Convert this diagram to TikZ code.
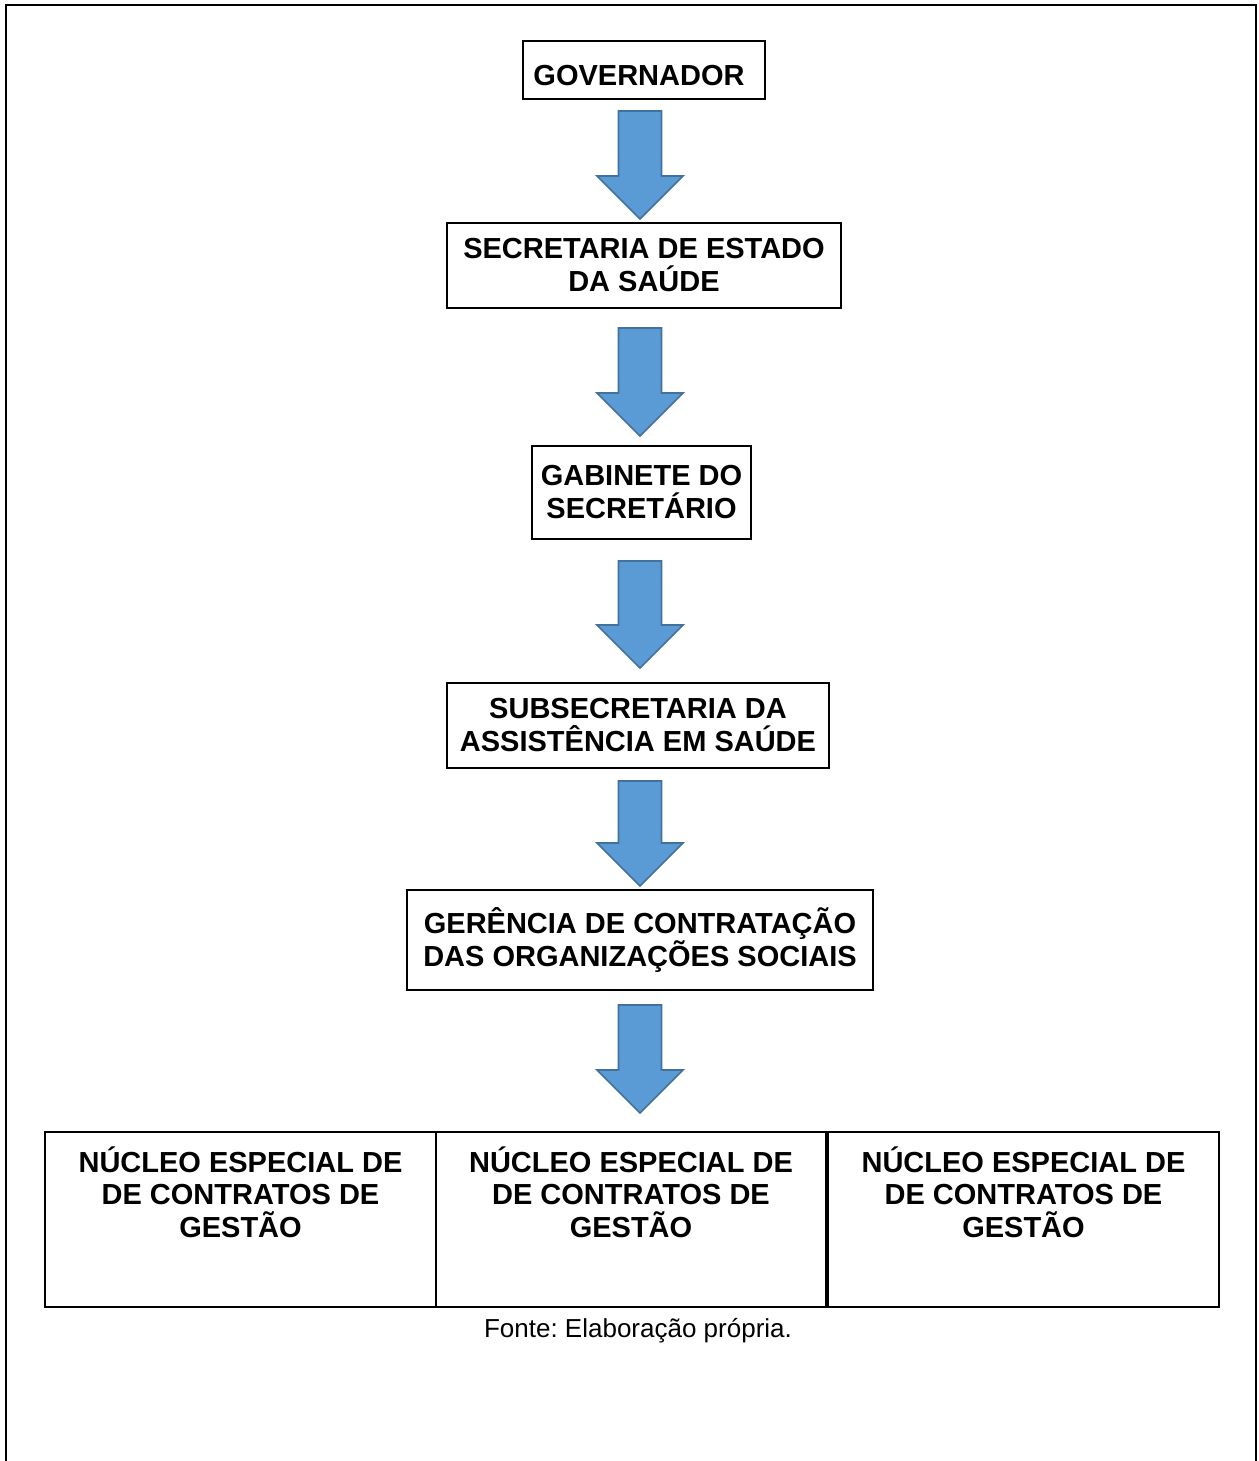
\documentclass[tikz,border=0pt]{standalone}
\usepackage{fontspec}
\setmainfont{Liberation Sans}
\usetikzlibrary{calc}
\definecolor{arrowfill}{HTML}{5B9BD5}
\definecolor{arrowline}{HTML}{41719C}
\frenchspacing
\tikzset{
  orgbox/.style={draw=black, line width=1pt, inner sep=0pt, align=center,
    font=\fontsize{14.5pt}{16.5pt}\selectfont\bfseries},
  nucleobox/.style={draw=black, line width=1pt, inner sep=0pt,
    minimum width=195.5pt, minimum height=87.5pt},
  nucleotext/.style={inner sep=0pt, align=center,
    font=\fontsize{14.5pt}{16.3pt}\selectfont\bfseries},
  caption/.style={inner sep=0pt, font=\fontsize{13pt}{15pt}\selectfont\frenchspacing},
  frameline/.style={line width=1pt, draw=black},
  blockarrow/.style={draw=arrowline, fill=arrowfill, line width=0.8pt, line join=miter,
    to path={let \p1=(\tikztostart), \p2=(\tikztotarget) in
      (\x2-10.75pt,\y1) -- (\x2+10.75pt,\y1) -- (\x2+10.75pt,\y2+21.5pt)
      -- (\x2+21.5pt,\y2+21.5pt) -- (\x2,\y2) -- (\x2-21.5pt,\y2+21.5pt)
      -- (\x2-10.75pt,\y2+21.5pt) -- cycle}}
}
\begin{document}
\begin{tikzpicture}[x=0.5pt, y=-0.5pt]
\useasboundingbox (0,0) rectangle (1258,1461);
% frame (open at the bottom)
\draw[frameline] (6,1461) -- (6,5) -- (1256,5) -- (1256,1461);

\coordinate (axis) at (640,0);

\node[orgbox, minimum width=121pt, minimum height=29pt] (gov) at (644,70)
  {\raisebox{-3pt}[\height][\depth]{GOVERNADOR\hspace{5pt}}};
\node[orgbox, minimum width=197pt, minimum height=42.5pt] (sec) at (644,265.5)
  {SECRETARIA DE ESTADO\\DA SAÚDE};
\node[orgbox, minimum width=109.5pt, minimum height=46.5pt] (gab) at (641.5,492.5)
  {GABINETE DO\\SECRETÁRIO};
\node[orgbox, minimum width=191pt, minimum height=42.5pt] (sub) at (638,725.5)
  {SUBSECRETARIA DA\\ASSISTÊNCIA EM SAÚDE};
\node[orgbox, minimum width=233pt, minimum height=50pt] (ger) at (640,940)
  {GERÊNCIA DE CONTRATAÇÃO\\DAS ORGANIZAÇÕES SOCIAIS};

\node[nucleobox] (n1) at (240.5,1219.5) {};
\node[nucleobox, minimum width=195pt] (n2) at (631,1219.5) {};
\node[nucleobox] (n3) at (1023.5,1219.5) {};

\node[nucleotext, anchor=north] (t1) at ($(n1.north)+(0,15)$)
  {NÚCLEO ESPECIAL DE\\DE CONTRATOS DE\\GESTÃO};
\node[nucleotext, anchor=north] (t2) at ($(n2.north)+(0,15)$)
  {NÚCLEO ESPECIAL DE\\DE CONTRATOS DE\\GESTÃO};
\node[nucleotext, anchor=north] (t3) at ($(n3.north)+(0,15)$)
  {NÚCLEO ESPECIAL DE\\DE CONTRATOS DE\\GESTÃO};

\node[caption, anchor=base] (cap) at (638,1337) {Fonte: Elaboração própria.};

% block arrows
\draw[blockarrow] ($(gov.south -| axis)+(0,11)$) to ($(sec.north -| axis)+(0,-3)$);
\draw[blockarrow] ($(sec.south -| axis)+(0,19)$) to ($(gab.north -| axis)+(0,-9)$);
\draw[blockarrow] ($(gab.south -| axis)+(0,21)$) to ($(sub.north -| axis)+(0,-14)$);
\draw[blockarrow] ($(sub.south -| axis)+(0,12)$) to ($(ger.north -| axis)+(0,-3)$);
\draw[blockarrow] ($(ger.south -| axis)+(0,14)$) to ($(n2.north -| axis)+(0,-18)$);
\end{tikzpicture}
\end{document}
